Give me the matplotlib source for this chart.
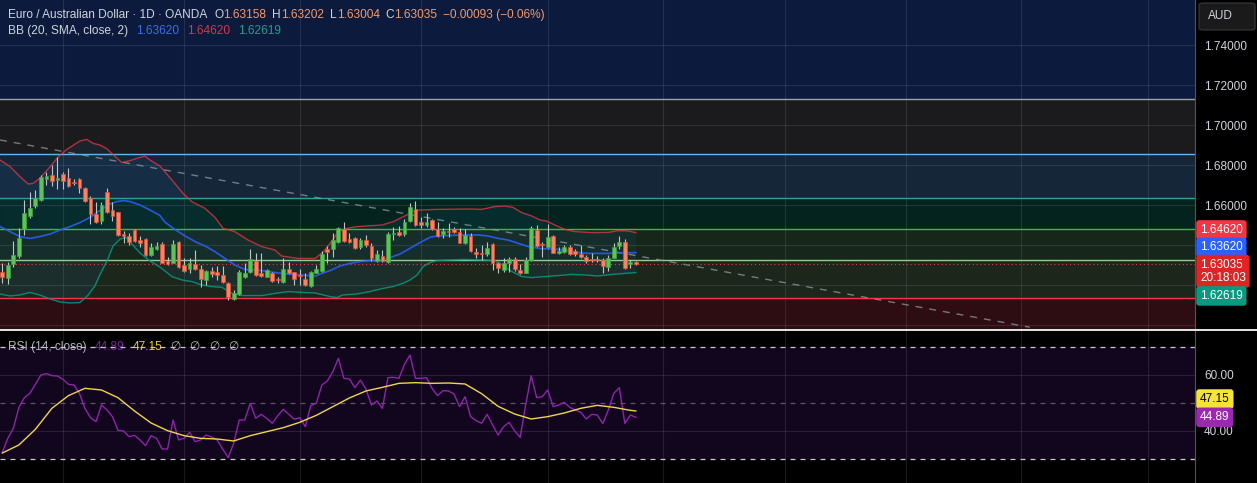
import matplotlib
matplotlib.use('Agg')
import matplotlib.pyplot as plt
import numpy as np
from matplotlib.lines import Line2D
from matplotlib.patches import FancyBboxPatch

plt.rcParams['font.family'] = ['Liberation Sans', 'DejaVu Sans']

# daily EUR/AUD candles (oldest first)
opens = [1.6267, 1.6233, 1.6303, 1.6347, 1.6480, 1.6545, 1.6595, 1.6625, 1.6730, 1.6750,
         1.6725, 1.6755, 1.6733, 1.6717, 1.6730, 1.6683, 1.6633, 1.6555, 1.6520, 1.6665,
         1.6575, 1.6563, 1.6457, 1.6445, 1.6475, 1.6425, 1.6428, 1.6350, 1.6378, 1.6405,
         1.6320, 1.6312, 1.6413, 1.6300, 1.6278, 1.6305, 1.6280, 1.6225, 1.6270, 1.6265,
         1.6250, 1.6208, 1.6132, 1.6157, 1.6242, 1.6267, 1.6322, 1.6260, 1.6242, 1.6262,
         1.6230, 1.6217, 1.6278, 1.6263, 1.6250, 1.6230, 1.6195, 1.6262, 1.6272, 1.6380,
         1.6378, 1.6417, 1.6482, 1.6428, 1.6437, 1.6388, 1.6425, 1.6395, 1.6322, 1.6347,
         1.6315, 1.6455, 1.6467, 1.6453, 1.6522, 1.6582, 1.6515, 1.6498, 1.6525, 1.6480,
         1.6453, 1.6470, 1.6478, 1.6465, 1.6408, 1.6447, 1.6367, 1.6358, 1.6355, 1.6403,
         1.6308, 1.6275, 1.6308, 1.6330, 1.6275, 1.6262, 1.6325, 1.6475, 1.6403, 1.6388,
         1.6445, 1.6360, 1.6367, 1.6388, 1.6368, 1.6353, 1.6342, 1.6330, 1.6330, 1.6325,
         1.6292, 1.6337, 1.6395, 1.6413, 1.6303, 1.63158]
highs = [1.6308, 1.6317, 1.6420, 1.6483, 1.6625, 1.6667, 1.6675, 1.6750, 1.6767, 1.6800,
         1.6842, 1.6767, 1.6783, 1.6728, 1.6737, 1.6692, 1.6645, 1.6617, 1.6617, 1.6683,
         1.6617, 1.6567, 1.6470, 1.6458, 1.6482, 1.6445, 1.6433, 1.6408, 1.6417, 1.6417,
         1.6342, 1.6425, 1.6420, 1.6333, 1.6333, 1.6375, 1.6300, 1.6275, 1.6292, 1.6295,
         1.6295, 1.6217, 1.6175, 1.6275, 1.6308, 1.6380, 1.6358, 1.6358, 1.6278, 1.6267,
         1.6242, 1.6333, 1.6317, 1.6267, 1.6278, 1.6262, 1.6272, 1.6300, 1.6372, 1.6395,
         1.6458, 1.6492, 1.6517, 1.6458, 1.6442, 1.6433, 1.6450, 1.6408, 1.6375, 1.6375,
         1.6467, 1.6492, 1.6495, 1.6528, 1.6608, 1.6620, 1.6538, 1.6558, 1.6528, 1.6517,
         1.6483, 1.6512, 1.6488, 1.6483, 1.6478, 1.6462, 1.6383, 1.6400, 1.6417, 1.6408,
         1.6317, 1.6333, 1.6342, 1.6338, 1.6303, 1.6342, 1.6495, 1.6500, 1.6413, 1.6503,
         1.6448, 1.6392, 1.6400, 1.6398, 1.6378, 1.6398, 1.6350, 1.6358, 1.6347, 1.6333,
         1.6350, 1.6408, 1.6445, 1.6430, 1.6325, 1.63202]
lows = [1.6208, 1.6205, 1.6288, 1.6333, 1.6450, 1.6533, 1.6583, 1.6622, 1.6700, 1.6697,
        1.6678, 1.6678, 1.6692, 1.6700, 1.6658, 1.6617, 1.6505, 1.6508, 1.6505, 1.6558,
        1.6522, 1.6445, 1.6408, 1.6400, 1.6413, 1.6392, 1.6345, 1.6345, 1.6375, 1.6308,
        1.6300, 1.6308, 1.6287, 1.6267, 1.6258, 1.6275, 1.6188, 1.6200, 1.6242, 1.6225,
        1.6208, 1.6125, 1.6125, 1.6150, 1.6233, 1.6258, 1.6245, 1.6242, 1.6238, 1.6217,
        1.6208, 1.6212, 1.6255, 1.6200, 1.6200, 1.6195, 1.6192, 1.6258, 1.6267, 1.6308,
        1.6342, 1.6412, 1.6413, 1.6408, 1.6378, 1.6382, 1.6392, 1.6322, 1.6315, 1.6317,
        1.6312, 1.6425, 1.6445, 1.6445, 1.6517, 1.6495, 1.6483, 1.6492, 1.6475, 1.6438,
        1.6437, 1.6438, 1.6458, 1.6408, 1.6403, 1.6367, 1.6333, 1.6325, 1.6345, 1.6275,
        1.6262, 1.6267, 1.6267, 1.6272, 1.6255, 1.6258, 1.6320, 1.6392, 1.6342, 1.6383,
        1.6358, 1.6355, 1.6362, 1.6350, 1.6347, 1.6333, 1.6312, 1.6317, 1.6317, 1.6258,
        1.6272, 1.6333, 1.6382, 1.6278, 1.6283, 1.63004]
closes = [1.6242, 1.6300, 1.6348, 1.6437, 1.6558, 1.6583, 1.6637, 1.6738, 1.6745, 1.6722,
          1.6737, 1.6722, 1.6697, 1.6708, 1.6683, 1.6622, 1.6555, 1.6513, 1.6598, 1.6567,
          1.6547, 1.6452, 1.6445, 1.6413, 1.6418, 1.6412, 1.6348, 1.6390, 1.6395, 1.6312,
          1.6305, 1.6403, 1.6288, 1.6272, 1.6312, 1.6278, 1.6232, 1.6270, 1.6255, 1.6250,
          1.6213, 1.6142, 1.6162, 1.6263, 1.6258, 1.6328, 1.6250, 1.6245, 1.6275, 1.6222,
          1.6225, 1.6278, 1.6262, 1.6228, 1.6243, 1.6200, 1.6267, 1.6278, 1.6355, 1.6365,
          1.6425, 1.6483, 1.6418, 1.6417, 1.6387, 1.6425, 1.6400, 1.6333, 1.6353, 1.6322,
          1.6453, 1.6462, 1.6450, 1.6513, 1.6588, 1.6500, 1.6502, 1.6515, 1.6480, 1.6445,
          1.6470, 1.6467, 1.6465, 1.6412, 1.6448, 1.6372, 1.6357, 1.6353, 1.6387, 1.6308,
          1.6283, 1.6308, 1.6332, 1.6278, 1.6262, 1.6325, 1.6487, 1.6397, 1.6400, 1.6438,
          1.6362, 1.6370, 1.6388, 1.6355, 1.6355, 1.6340, 1.6318, 1.6325, 1.6325, 1.6295,
          1.6337, 1.6392, 1.6413, 1.6283, 1.6315, 1.63035]

# Bollinger bands (20, 2) as drawn, sampled at bar positions
bb_up_x = [-0.4, 1.4, 3.2, 4.7, 5.6, 6.8, 8.7, 10.2, 11.7, 14.1, 15.3, 16.5, 17.7, 18.9, 20.5, 21.7,
           23.2, 24.4, 25.9, 26.8, 28.6, 29.5, 31.3, 32.8, 34.4, 36.8, 38.6, 40.1, 42.2, 44.6, 47.1,
           49.5, 50.7, 53.7, 56.8, 58.3, 59.5, 61, 62.5, 64.3, 66.1, 68.9, 71, 73.4, 74.9, 75.8, 78.8,
           84.9, 87, 89.4, 91.2, 92.7, 94.3, 96.1, 97.6, 98.8, 100.3, 102.1, 103.9, 107, 110, 111.8,
           113.6, 115]
bb_up = [1.6825, 1.6792, 1.6742, 1.6705, 1.6708, 1.6733, 1.6792, 1.6842, 1.6878, 1.6920, 1.6928,
         1.6908, 1.6900, 1.6883, 1.6842, 1.6812, 1.6822, 1.6833, 1.6845, 1.6825, 1.6795, 1.6767,
         1.6708, 1.6658, 1.6617, 1.6583, 1.6538, 1.6483, 1.6467, 1.6425, 1.6392, 1.6375, 1.6345,
         1.6333, 1.6333, 1.6367, 1.6408, 1.6467, 1.6483, 1.6492, 1.6495, 1.6500, 1.6517, 1.6550,
         1.6572, 1.6575, 1.6578, 1.6580, 1.6578, 1.6592, 1.6595, 1.6588, 1.6562, 1.6545, 1.6525,
         1.6520, 1.6500, 1.6478, 1.6467, 1.6462, 1.6463, 1.6472, 1.6470, 1.6462]
bb_mid_x = [-0.4, 1.4, 3.2, 5, 6.8, 8.7, 10.5, 12.3, 14.1, 15.9, 17.7, 19.5, 20.8, 22, 23.2, 25,
            26.8, 28.6, 29.5, 31.3, 33.2, 35, 36.8, 38.6, 40.4, 42.2, 44, 45.9, 47.7, 49.5, 51.9,
            54.3, 56.8, 57.7, 59.5, 61.3, 63.1, 64.9, 66.7, 68.5, 70.4, 72.2, 74, 75.8, 77.6, 78.8,
            81.3, 84, 86.4, 88.2, 90, 91.8, 93.7, 95.5, 97.3, 99.1, 100.9, 102.7, 104.5, 106.4, 110,
            111.8, 115]
bb_mid = [1.6492, 1.6467, 1.6442, 1.6433, 1.6442, 1.6455, 1.6475, 1.6492, 1.6512, 1.6538, 1.6572,
          1.6605, 1.6617, 1.6622, 1.6617, 1.6600, 1.6575, 1.6548, 1.6515, 1.6478, 1.6445, 1.6417,
          1.6395, 1.6367, 1.6333, 1.6300, 1.6278, 1.6275, 1.6270, 1.6262, 1.6255, 1.6250, 1.6245,
          1.6255, 1.6272, 1.6295, 1.6308, 1.6317, 1.6322, 1.6325, 1.6337, 1.6355, 1.6383, 1.6412,
          1.6438, 1.6445, 1.6448, 1.6450, 1.6450, 1.6445, 1.6433, 1.6425, 1.6408, 1.6392, 1.6383,
          1.6380, 1.6378, 1.6372, 1.6362, 1.6358, 1.6358, 1.6360, 1.6362]
bb_low_x = [-0.4, 1.4, 3.2, 5, 6.8, 8.7, 10.5, 12.3, 14.1, 15.6, 16.8, 17.7, 19, 20.1, 21.4, 22.5,
            23.5, 25, 26.8, 28.6, 30.8, 32.6, 34.4, 36.2, 38.1, 39.9, 41.7, 43.5, 47.1, 49.5, 51.9,
            54.4, 56.8, 59.5, 60.7, 61.8, 64.4, 66.7, 69.1, 70.9, 72.7, 74, 75.3, 76.4, 77.6, 78.9,
            81.3, 84, 87.1, 89.4, 90.7, 92.5, 94.3, 96.1, 98.5, 100.9, 103.4, 105.8, 108.1, 110.7,
            113, 115]
bb_low = [1.6155, 1.6145, 1.6150, 1.6163, 1.6150, 1.6130, 1.6115, 1.6110, 1.6112, 1.6150, 1.6195,
          1.6250, 1.6320, 1.6395, 1.6430, 1.6437, 1.6405, 1.6360, 1.6320, 1.6290, 1.6242, 1.6225,
          1.6217, 1.6200, 1.6192, 1.6188, 1.6158, 1.6147, 1.6147, 1.6158, 1.6167, 1.6163, 1.6160,
          1.6142, 1.6137, 1.6150, 1.6155, 1.6167, 1.6183, 1.6192, 1.6208, 1.6225, 1.6250, 1.6292,
          1.6312, 1.6322, 1.6325, 1.6328, 1.6325, 1.6322, 1.6300, 1.6267, 1.6242, 1.6237, 1.6242,
          1.6247, 1.6253, 1.6250, 1.6245, 1.6253, 1.6258, 1.6262]

# RSI (14) per bar and its moving average
rsi = [32.38, 37.38, 40.95, 48.33, 51.90, 53.45, 56.67, 60.00, 60.48, 59.76,
       59.64, 58.45, 56.67, 56.43, 53.45, 48.10, 44.76, 43.33, 49.29, 47.50,
       45.12, 40.24, 40.00, 37.98, 38.45, 36.79, 34.76, 38.33, 37.38, 33.57,
       33.57, 43.93, 36.79, 37.38, 39.52, 36.19, 36.79, 38.57, 37.86, 36.79,
       33.57, 30.48, 35.60, 43.93, 43.93, 49.88, 44.52, 45.95, 44.52, 42.74,
       45.48, 47.74, 45.95, 44.17, 44.76, 41.55, 49.05, 49.88, 56.43, 57.86,
       61.19, 65.95, 58.81, 58.57, 55.48, 58.21, 55.00, 49.29, 50.71, 48.10,
       59.05, 59.17, 58.81, 63.81, 67.14, 58.81, 58.81, 59.05, 55.24, 52.62,
       54.40, 54.29, 53.21, 48.69, 52.26, 45.12, 43.69, 42.74, 45.95, 42.14,
       38.57, 41.55, 43.10, 40.00, 37.74, 49.29, 59.76, 51.90, 52.26, 54.64,
       48.69, 49.29, 50.24, 48.45, 47.50, 46.67, 44.29, 45.95, 45.71, 42.62,
       47.50, 53.45, 55.48, 42.74, 45.71, 44.89]
rsi_ma_x = [0, 3, 6, 9, 12, 15, 18, 21, 24, 27, 30, 33, 36, 39, 42, 45, 48, 51, 54, 57,
            60, 63, 66, 69, 72, 75, 78, 81, 84, 87, 90, 93, 96, 99, 102, 105, 108, 111, 114, 115]
rsi_ma = [32.14, 35.00, 40.60, 48.10, 52.62, 55.24, 54.64, 51.90, 47.14, 42.86,
          40.12, 38.33, 37.38, 37.14, 36.43, 38.33, 39.76, 41.19, 43.10, 45.60,
          48.69, 51.79, 54.29, 55.60, 57.02, 57.26, 57.02, 57.14, 56.79, 53.33,
          48.81, 46.07, 44.29, 45.12, 46.43, 48.10, 49.17, 48.45, 47.38, 47.15]

# horizontal levels drawn on the chart and the shaded zones between them
levels = [1.61335, 1.6325, 1.64785, 1.66335, 1.68535, 1.7130]
level_colors = ['#f23645', '#8fcf8f', '#4caf50', '#26a69a', '#64b5f6', '#a0a3aa']
zone_colors = ['#2d0d12', '#1c261b', '#16261a', '#05231e', '#152638', '#1b1b1d', '#0c1a3e']
trend_x = [-0.42, 186.5]
trend_y = [1.6925, 1.5989]

month_bars = [11, 33, 54, 76, 99, 120, 142, 164, 185, 208]
price_ticks = [1.60, 1.62, 1.64, 1.66, 1.68, 1.70, 1.72, 1.74]
price_labels = ['', '', '', '1.66000', '1.68000', '1.70000', '1.72000', '1.74000']

W, H = 1257, 483
fig = plt.figure(figsize=(W / 100, H / 100), dpi=100, facecolor='black')
ax = fig.add_axes([0, 154 / H, 1195 / W, 329 / H])
ax2 = fig.add_axes([0, 0, 1195 / W, 152 / H])
xlim = (-0.42, 216.5)

# ---- price pane
ax.set_xlim(*xlim)
ax.set_ylim(1.598, 1.7625)
bounds = [1.5] + levels + [1.9]
for lo, hi, c in zip(bounds[:-1], bounds[1:], zone_colors):
    ax.axhspan(lo, hi, color=c, lw=0, zorder=0.1)
ax.set_xticks(month_bars)
ax.set_yticks(price_ticks)
ax.set_yticklabels(price_labels)
ax.grid(True, color='#a0a6b0', alpha=0.16, lw=0.8)
ax.set_axisbelow(True)
for lv, c in zip(levels, level_colors):
    ax.axhline(lv, color=c, lw=1.0, zorder=1.5)

ax.fill(np.concatenate([bb_up_x, bb_low_x[::-1]]), np.concatenate([bb_up, bb_low[::-1]]),
        color='#2196f3', alpha=0.08, lw=0, zorder=1)
ax.plot(trend_x, trend_y, color='#9598a1', lw=1.0, ls=(0, (5, 5)), alpha=0.75, zorder=2)
ax.plot(bb_up_x, bb_up, color='#f23645', lw=1.0, alpha=0.72, zorder=2.5)
ax.plot(bb_mid_x, bb_mid, color='#2962ff', lw=1.2, alpha=0.85, zorder=2.5)
ax.plot(bb_low_x, bb_low, color='#089981', lw=1.0, alpha=0.85, zorder=2.5)

o = np.array(opens)
c = np.array(closes)
xs = np.arange(len(o))
up = c >= o
ax.vlines(xs, lows, highs, color='#c4c4c4', lw=0.8, zorder=3)
ax.bar(xs, np.maximum(np.abs(c - o), 0.00008), bottom=np.minimum(o, c), width=0.68,
       color=np.where(up, '#5ec25b', '#f7845e'), edgecolor=np.where(up, '#3fa33f', '#e0503c'),
       linewidth=0.5, zorder=4)
ax.axhline(closes[-1], color='#f23645', lw=0.8, ls=(0, (1, 2.5)), zorder=2)

ax.yaxis.tick_right()
ax.tick_params(axis='y', length=0, pad=6.5, labelsize=8.5, labelcolor='#d1d4dc')
ax.tick_params(axis='x', length=0, labelbottom=False)
for s in ax.spines.values():
    s.set_visible(False)
ax.spines['right'].set_visible(True)
ax.spines['right'].set_color('#555555')


def axis_tag(a, value, text, fc, tc='white', dy=0.0):
    a.annotate(text, xy=(1, value), xycoords=a.get_yaxis_transform(), xytext=(3.6, dy),
               textcoords='offset points', ha='left', va='center', fontsize=8.5, color=tc,
               annotation_clip=False, zorder=10, linespacing=1.15,
               bbox=dict(boxstyle='round,pad=0.32,rounding_size=0.25', fc=fc, ec='none'))


axis_tag(ax, bb_up[-1], '1.64620', '#f23645', dy=1.9)
axis_tag(ax, bb_mid[-1], '1.63620', '#2962ff', dy=3.7)
axis_tag(ax, closes[-1], '1.63035\n20:18:03', '#dc2626', dy=-5.0)
axis_tag(ax, bb_low[-1], '1.62619', '#089981', dy=-16.8)

# ---- RSI pane
ax2.set_xlim(*xlim)
ax2.set_ylim(21.43, 75.71)
ax2.set_facecolor('black')
ax2.axhspan(30, 70, color='#12051e', lw=0, zorder=0.1)
ax2.set_xticks(month_bars)
ax2.set_yticks([40, 60])
ax2.set_yticklabels(['40.00', '60.00'])
ax2.grid(True, color='#a0a6b0', alpha=0.16, lw=0.8)
ax2.set_axisbelow(True)
ax2.axhline(70, color='#c8c8d0', lw=0.9, ls=(0, (4, 4)), zorder=2)
ax2.axhline(30, color='#c8c8d0', lw=0.9, ls=(0, (4, 4)), zorder=2)
ax2.axhline(50, color='#787b86', lw=0.9, ls=(0, (4, 4)), alpha=0.7, zorder=2)
ax2.plot(xs, rsi, color='#8e24aa', lw=1.0, zorder=3)
ax2.plot(rsi_ma_x, rsi_ma, color='#f0d64a', lw=1.0, zorder=4)
ax2.yaxis.tick_right()
ax2.tick_params(axis='y', length=0, pad=6.5, labelsize=8.5, labelcolor='#d1d4dc')
ax2.tick_params(axis='x', length=0, labelbottom=False)
for s in ax2.spines.values():
    s.set_visible(False)
ax2.spines['right'].set_visible(True)
ax2.spines['right'].set_color('#555555')
axis_tag(ax2, rsi_ma[-1], '47.15', '#f5e33b', tc='black', dy=8.6)
axis_tag(ax2, rsi[-1], '44.89', '#9c27b0')

# pane separator and currency box
fig.add_artist(Line2D([0, 1], [1 - 330 / H] * 2, transform=fig.transFigure, color='#e6e6e6', lw=1.4))
fig.add_artist(FancyBboxPatch((1199 / W, 1 - 30 / H), 56 / W, 27 / H, transform=fig.transFigure,
                              boxstyle='round,pad=0,rounding_size=0.004', fc='#1a1a1a', ec='#3a3a3a',
                              lw=0.8))
fig.text(1208 / W, 1 - 16 / H, 'AUD', color='#d1d4dc', fontsize=8.5, va='center', ha='left')

renderer = fig.canvas.get_renderer()


def text_row(target, x_px, y_px, parts, zorder=5):
    x = x_px / W
    for s, col, gap in parts:
        x += gap / W
        t = target.text(x, 1 - y_px / H, s, color=col, fontsize=8.6, va='center', ha='left',
                        transform=fig.transFigure, zorder=zorder)
        x = t.get_window_extent(renderer=renderer).x1 / fig.bbox.width


grey = '#d1d4dc'
down = '#f39a6b'
text_row(fig, 8, 15, [('Euro / Australian Dollar · 1D · OANDA', grey, 0), ('O', grey, 7),
                      ('1.63158', down, 0), ('H', grey, 6), ('1.63202', down, 0),
                      ('L', grey, 6), ('1.63004', down, 0), ('C', grey, 6), ('1.63035', down, 0),
                      ('\u22120.00093 (\u22120.06%)', down, 6)])
text_row(fig, 8, 31, [('BB (20, SMA, close, 2)', grey, 0), ('1.63620', '#3d6fe6', 8),
                      ('1.64620', '#d03a4c', 8), ('1.62619', '#1fa08a', 8)])
text_row(ax2, 8, 347, [('RSI (14, close)', '#b2b5be', 0), ('44.89', '#7b2a9e', 8),
                       ('47.15', '#e6cf3c', 8), ('\u2205', '#b2b5be', 8), ('\u2205', '#b2b5be', 9),
                       ('\u2205', '#b2b5be', 9), ('\u2205', '#b2b5be', 9)], zorder=1.5)

fig.savefig('out.png', dpi=100, facecolor='black')
